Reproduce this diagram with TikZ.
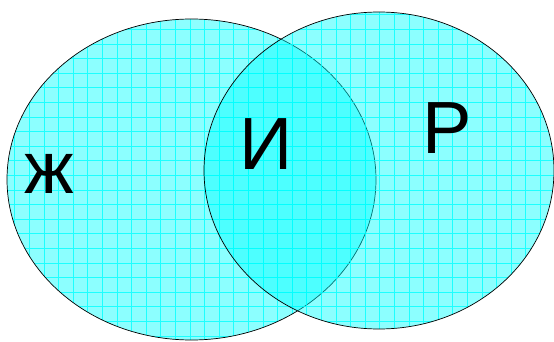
\documentclass[tikz,border=0pt]{standalone}
\usepackage{fontspec}
\setmainfont{Liberation Sans}
\definecolor{setcyan}{RGB}{0,255,255}

\begin{document}
\begin{tikzpicture}[x=1pt, y=-1pt,
    setfill/.style={fill=setcyan, fill opacity=0.45},
    setline/.style={draw=black, line width=0.7pt},
    gridline/.style={setcyan, line width=0.45pt, opacity=0.8},
    setlabel/.style={font=\fontsize{74}{74}\selectfont, inner sep=0pt}
]
    \useasboundingbox (0,0) rectangle (554,342);

    % left set
    \fill[setfill] (191.5,179.5) ellipse [x radius=184.5, y radius=160.5];
    \begin{scope}
        \clip (191.5,179.5) ellipse [x radius=184.5, y radius=160.5];
        \draw[gridline, step=14.6pt] (0,0) grid (554,342);
    \end{scope}
    \draw[setline] (191.5,179.5) ellipse [x radius=184.5, y radius=160.5];

    % right set
    \fill[setfill] (379,170.5) ellipse [x radius=175, y radius=158.5];
    \begin{scope}
        \clip (379,170.5) ellipse [x radius=175, y radius=158.5];
        \draw[gridline, step=14.6pt] (0,0) grid (554,342);
    \end{scope}
    \draw[setline] (379,170.5) ellipse [x radius=175, y radius=158.5];

    % labels
    \node[setlabel] (zh) at (49,173.5) {ж};
    \node[setlabel] (i) at (266.5,144) {И};
    \node[setlabel] (r) at (447.5,128.5) {Р};

\end{tikzpicture}
\end{document}
